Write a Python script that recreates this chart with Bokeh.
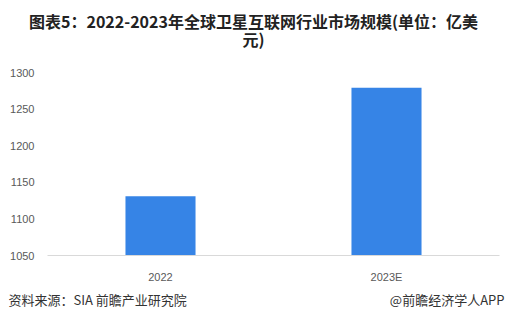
from bokeh.plotting import figure
from bokeh.layouts import column, row
from bokeh.models import FactorRange, Range1d, ColumnDataSource, FixedTicker
from bokeh.core.properties import value
from bokeh.embed import file_html
from bokeh.resources import INLINE

categories = ["2022", "2023E"]
values = [1131, 1279]
y_ticks = [1050, 1100, 1150, 1200, 1250, 1300]

title_lines = ["图表5：2022-2023年全球卫星互联网行业市场规模(单位：亿美", "元)"]
source_text = "资料来源：SIA 前瞻产业研究院"
brand_text = "@前瞻经济学人APP"

W = 506
font = "Noto Sans CJK SC"

def blank(h):
    f = figure(width=W, height=h, x_range=Range1d(0, W), y_range=Range1d(h, 0),
               output_backend="svg", toolbar_location=None,
               x_axis_location=None, y_axis_location=None,
               min_border=0, min_border_left=0, min_border_right=0,
               min_border_top=0, min_border_bottom=0)
    f.outline_line_color = None
    f.grid.visible = False
    f.border_fill_color = "white"
    f.background_fill_color = "white"
    return f

# --- title ---
TH = 52
pt = blank(TH)
pt.text(x=[253, 253], y=[20, 38], text=title_lines, text_font=value(font),
        text_font_size="16px", text_font_style="bold", text_align="center",
        text_baseline="middle", text_color="#222222")

# --- main chart ---
MH = 233
top_off = 72 - TH
frame_bottom = 258 - TH
p = figure(width=W, height=MH, x_range=FactorRange(*categories), y_range=Range1d(1050, 1300),
           output_backend="svg", toolbar_location=None,
           min_border_left=47, min_border_right=7, min_border_top=top_off,
           min_border_bottom=MH - frame_bottom)
p.outline_line_color = None
p.grid.visible = False
p.background_fill_color = "white"
p.border_fill_color = "white"

src = ColumnDataSource(dict(x=categories, top=values))
p.vbar(x="x", top="top", bottom=1050, width=0.31, source=src, color="#3684E6", line_color=None)

p.yaxis.ticker = FixedTicker(ticks=y_ticks)
p.yaxis.axis_line_color = None
p.yaxis.major_tick_line_color = None
p.yaxis.minor_tick_line_color = None
p.yaxis.major_label_text_font = "Liberation Sans"
p.yaxis.major_label_text_font_size = "11px"
p.yaxis.major_label_text_color = "#595959"
p.yaxis.major_label_standoff = 7

p.xaxis.axis_line_color = "#d9d9d9"
p.xaxis.axis_line_width = 1
p.xaxis.major_tick_line_color = None
p.xaxis.minor_tick_line_color = None
p.xaxis.major_label_text_font = "Liberation Sans"
p.xaxis.major_label_text_font_size = "11px"
p.xaxis.major_label_text_color = "#595959"
p.xaxis.major_label_standoff = 9

# --- footer ---
FH = 333 - TH - MH
pf = blank(FH)
pf.text(x=[8], y=[299 - TH - MH], text=[source_text], text_font=value(font),
        text_font_size="13px", text_align="left", text_baseline="middle", text_color="#333333")
pf.text(x=[504], y=[299 - TH - MH], text=[brand_text], text_font=value(font),
        text_font_size="13px", text_align="right", text_baseline="middle", text_color="#333333")

layout = column(row(pt), p, row(pf), spacing=0)
open("out.html", "w").write(file_html(layout, INLINE))
